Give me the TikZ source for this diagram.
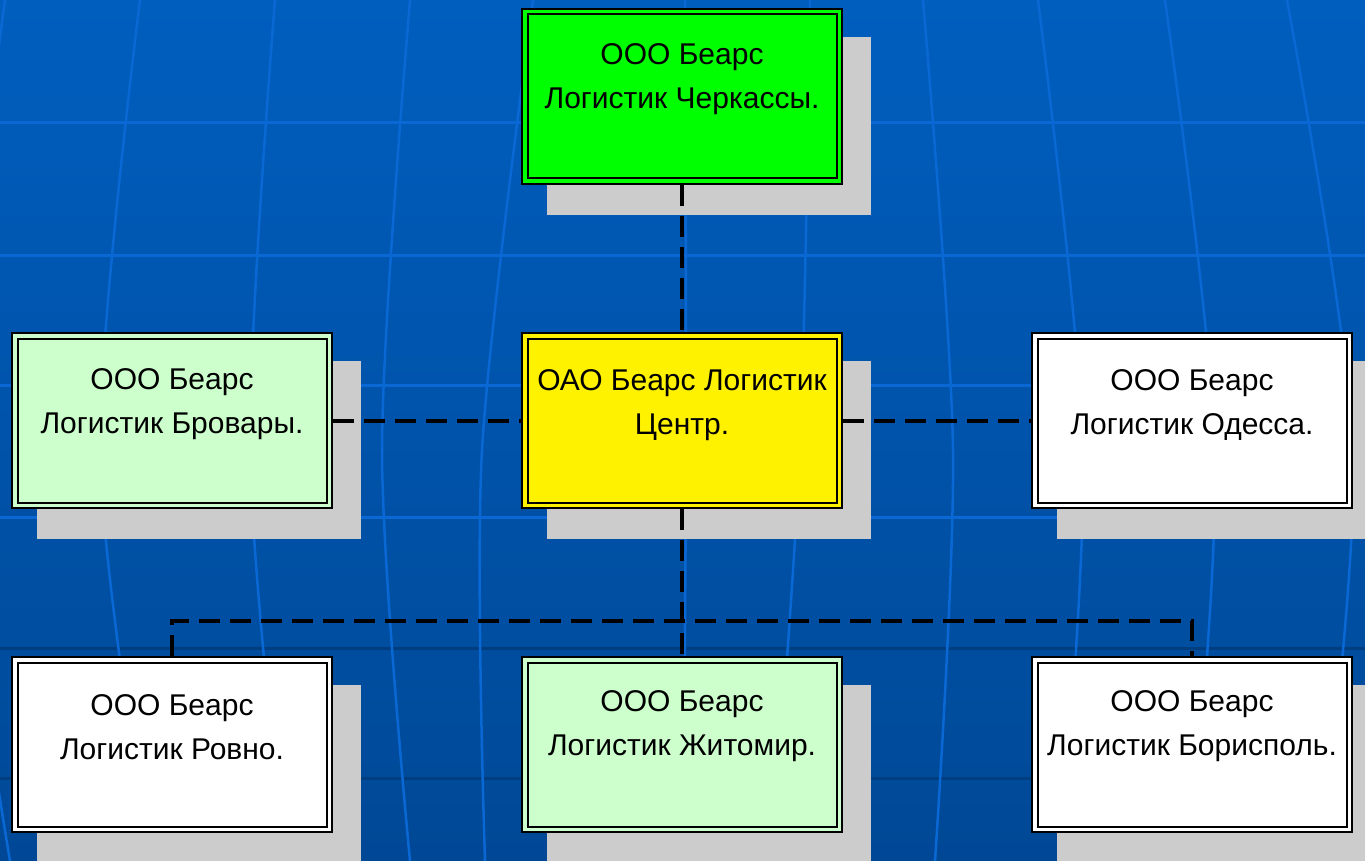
\documentclass[tikz,border=0pt]{standalone}
\usepackage{fontspec}
\setmainfont{Liberation Sans}
\usetikzlibrary{positioning,backgrounds}

\definecolor{bgtop}{RGB}{0,94,190}
\definecolor{bgbot}{RGB}{0,72,150}
\definecolor{gridlight}{RGB}{10,104,212}
\definecolor{griddark}{RGB}{0,62,128}
\definecolor{shadowgray}{RGB}{204,204,204}
\definecolor{palegreen}{RGB}{204,255,204}

\begin{document}
\begin{tikzpicture}[x=1pt,y=-1pt,
  orgbox/.style={draw=black,line width=2pt,double=#1,double distance=3.5pt,fill=#1,
    minimum width=314.5pt,minimum height=169.5pt,inner sep=0pt,outer sep=3.75pt},
  orgtext/.style={font=\fontsize{30}{44}\selectfont,align=center,inner sep=0pt},
  link/.style={line width=4pt,dash pattern=on 21pt off 10pt}]
\useasboundingbox (0,0) rectangle (1365,861);

\node[orgbox=green] (cher) at (682,96.5) {};
\node[orgbox=palegreen] (brov) at (172,420.5) {};
\node[orgbox=yellow] (cent) at (682,420.5) {};
\node[orgbox=white] (odes) at (1192,420.5) {};
\node[orgbox=white] (rovn) at (172,744.5) {};
\node[orgbox=palegreen] (zhit) at (682,744.5) {};
\node[orgbox=white] (bori) at (1192,744.5) {};

\node[orgtext,below=35pt of cher.north] (cher-t) {ООО Беарс\\Логистик Черкассы.};
\node[orgtext,below=36pt of brov.north] (brov-t) {ООО Беарс\\Логистик Бровары.};
\node[orgtext,below=37pt of cent.north] (cent-t) {ОАО Беарс Логистик\\Центр.};
\node[orgtext,below=37pt of odes.north] (odes-t) {ООО Беарс\\Логистик Одесса.};
\node[orgtext,below=38pt of rovn.north] (rovn-t) {ООО Беарс\\Логистик Ровно.};
\node[orgtext,below=34pt of zhit.north] (zhit-t) {ООО Беарс\\Логистик Житомир.};
\node[orgtext,below=34pt of bori.north] (bori-t) {ООО Беарс\\Логистик Борисполь.};

\coordinate (bus) at (682,621);
\draw[link] (cher) -- (cent);
\draw[link] (brov) -- (cent);
\draw[link] (cent) -- (odes);
\draw[link] (cent) -- (zhit);
\draw[link] (rovn.north) -- (rovn.north |- bus) -- (bori.north |- bus) -- (bori.north);

\begin{scope}[on background layer]
\clip (0,0) rectangle (1365,861);
\shade[top color=bgtop,bottom color=bgbot] (0,0) rectangle (1365,861);
\foreach \yy in {123,255,385,517}
  \draw[gridlight,line width=3pt] (0,\yy) -- (1365,\yy);
\foreach \yy in {648,778}
  \draw[griddark,line width=3pt] (0,\yy) -- (1365,\yy);
\foreach \t/\m/\b in {5/-40/10,140/100/150,275/250/285,410/382/410,533/482/485,685/686/683,
    810/800/772,923/953/935,1038/1083/1060,1165/1215/1190,1287/1353/1320}
  \draw[gridlight,line width=2.5pt] plot[smooth] coordinates {(\t,0) (\m,450) (\b,861)};
\foreach \n in {cher,brov,cent,odes,rovn,zhit,bori}
  \fill[shadowgray] ([shift={(26,29)}]\n.north west) rectangle ([shift={(28,30)}]\n.south east);
\end{scope}
\end{tikzpicture}
\end{document}
